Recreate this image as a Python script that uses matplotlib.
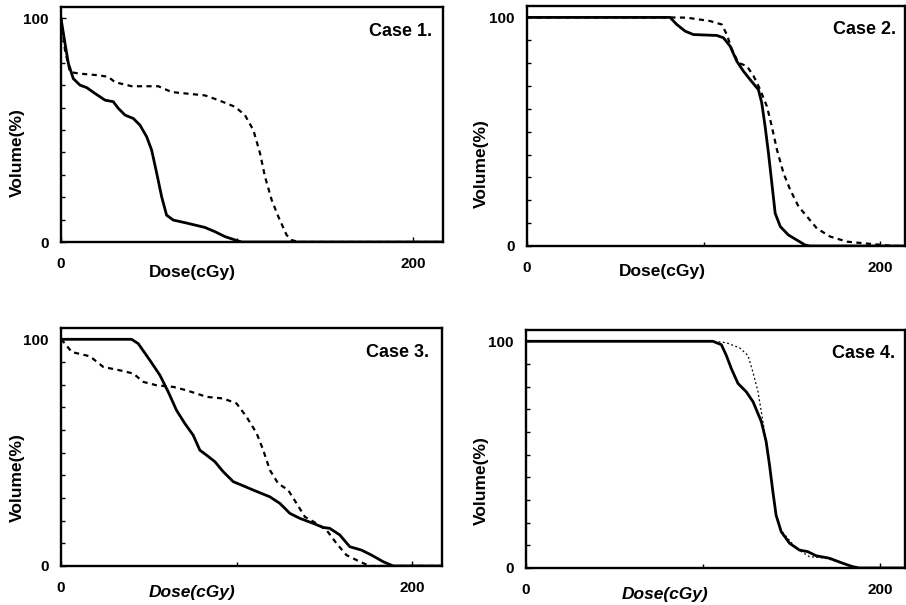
import matplotlib
matplotlib.use("Agg")
import matplotlib.pyplot as plt
from matplotlib.ticker import MultipleLocator, FixedLocator

plt.rcParams['font.family'] = ['Liberation Sans', 'DejaVu Sans']

# ---------------- data (dose in cGy, volume in %) ----------------
c1_solid_x = [0, 2.3, 4.2, 7, 10.8, 14.6, 19.3, 25, 29.7, 32.6, 36.4, 41.1, 44.9, 48.7, 51.5, 54.4, 57.2, 60, 63.8, 72.3, 81.8, 87.5, 93.2, 98.9, 102.7, 217]
c1_solid_y = [100, 88.7, 79.8, 73, 70.1, 69, 66.4, 63.4, 62.7, 59.7, 56.7, 55.2, 52.2, 47, 41.1, 30.7, 20.2, 12, 9.8, 8.3, 6.5, 4.6, 2.4, 0.9, 0, 0]
c1_dash_x = [0, 2.3, 5.1, 9.8, 21.2, 26.9, 30.7, 40.2, 55.3, 62.9, 81.8, 89.4, 98.9, 104.5, 109.3, 113.1, 115.9, 119.7, 123.5, 128.2, 131, 134.8, 217]
c1_dash_y = [100, 85.7, 76, 75.3, 74.5, 73.8, 71.4, 69.6, 69.6, 67, 65.5, 63.4, 60.4, 56.7, 50, 39.6, 29.2, 18.8, 11.3, 3.1, 0.9, 0, 0]

c2_solid_x = [0, 81, 84.8, 89.5, 94.2, 107.5, 111.2, 115, 118.8, 122.5, 126.3, 131, 132.9, 134.8, 136.7, 138.6, 140.5, 143.4, 148, 152.8, 157.5, 160.3, 214]
c2_solid_y = [100, 100, 96.9, 94, 92.5, 92.1, 91.1, 87.4, 80.8, 76.5, 72.8, 68.4, 62.6, 52.3, 40.6, 27.5, 14.3, 8.5, 4.8, 2.6, 0.4, 0, 0]
c2_dash_x = [0, 81, 90.5, 103.7, 110.3, 113.1, 116, 119.7, 124.5, 128.3, 132, 135.8, 138.6, 141.5, 145.2, 149, 153.7, 158.5, 164.1, 171.7, 181.1, 190.5, 201.9, 207.6, 214]
c2_dash_y = [100, 100, 99.9, 98.4, 96.9, 92.5, 86, 80.1, 78.7, 74.3, 68.4, 61.1, 52.3, 42.1, 31.9, 24.6, 17.3, 12.9, 7.7, 4.1, 1.9, 1.2, 0.4, 0, 0]

c3_solid_x = [0, 40.2, 44, 50.7, 56.4, 61.1, 65.8, 70.6, 75.3, 79.1, 82.9, 87.7, 92.4, 98.1, 102.8, 109.5, 119, 124.7, 130.4, 136.1, 143.7, 149.3, 153.1, 158.8, 164.5, 171.2, 176.9, 183.5, 189.2, 217]
c3_solid_y = [100, 100, 98.1, 90.7, 84.1, 76.8, 68.7, 62.8, 57.7, 51.1, 48.9, 46, 41.6, 37.2, 35.7, 33.5, 30.5, 27.6, 23.2, 21, 18.8, 17, 16.6, 13.7, 8.5, 7, 4.8, 1.9, 0, 0]
c3_dash_x = [0, 2.3, 6.1, 16.5, 24.1, 33.6, 41.2, 46.9, 54.5, 64, 71.5, 83, 92.4, 100, 105.7, 111.4, 115.2, 119, 123.7, 129.4, 134.2, 138.9, 145.5, 151.2, 156.9, 162.6, 170.2, 175.9, 217]
c3_dash_y = [100, 98.1, 94.4, 92.5, 87.8, 86.3, 84.9, 81.2, 79.7, 79, 77.5, 74.6, 73.9, 71.7, 65.8, 58.6, 51.1, 42.3, 36.4, 33.5, 27.6, 21.7, 18.8, 15.9, 10, 4.8, 1.9, 0, 0]

c4_solid_x = [0, 105.5, 110.3, 113.1, 115.9, 119.7, 124.4, 128.2, 132.9, 135.6, 137.5, 139.4, 141.2, 144.1, 148.8, 154.4, 159.1, 163.8, 171.3, 178.8, 184.4, 188.2, 214]
c4_solid_y = [100, 100, 98.5, 93.8, 88, 81.4, 77.7, 73.3, 64.5, 55.7, 45.4, 33.6, 23.3, 16, 10.9, 7.9, 7.2, 5.4, 4.3, 2.1, 0.6, 0, 0]
c4_dot_x = [0, 105.5, 113, 120.6, 125.3, 128.1, 131, 133.8, 135.6, 137.5, 139.4, 141.2, 143.1, 152.5, 160, 169.4, 178.8, 186.3, 214]
c4_dot_y = [100, 100, 99.4, 97.1, 93.8, 86.5, 77.7, 64.5, 55.7, 45.4, 33.6, 23.3, 17.5, 8.7, 5, 4.3, 2.1, 0, 0]

case_labels = ["Case 1.", "Case 2.", "Case 3.", "Case 4."]
x_label = "Dose(cGy)"
y_label = "Volume(%)"

# ---------------- layout ----------------
fig = plt.figure(figsize=(9.06, 6.05), dpi=100)

panels = [
    dict(rect=[0.0673, 0.600, 0.4216, 0.3884], xmax=217,
         sx=c1_solid_x, sy=c1_solid_y, dx=c1_dash_x, dy=c1_dash_y, style='dash',
         xl=(0.343, -0.128), yl=(-0.115, 0.379), cl=(0.971, 0.894), italic=False),
    dict(rect=[0.5817, 0.5934, 0.4172, 0.3967], xmax=214,
         sx=c2_solid_x, sy=c2_solid_y, dx=c2_dash_x, dy=c2_dash_y, style='dash',
         xl=(0.357, -0.108), yl=(-0.122, 0.342), cl=(0.976, 0.900), italic=False),
    dict(rect=[0.0673, 0.0645, 0.4205, 0.3934], xmax=217,
         sx=c3_solid_x, sy=c3_solid_y, dx=c3_dash_x, dy=c3_dash_y, style='dash',
         xl=(0.343, -0.113), yl=(-0.115, 0.370), cl=(0.966, 0.899), italic=True),
    dict(rect=[0.5806, 0.0612, 0.4183, 0.3934], xmax=214,
         sx=c4_solid_x, sy=c4_solid_y, dx=c4_dot_x, dy=c4_dot_y, style='dot',
         xl=(0.366, -0.113), yl=(-0.118, 0.366), cl=(0.974, 0.903), italic=True),
]

for p, case in zip(panels, case_labels):
    ax = fig.add_axes(p['rect'])
    ax.plot(p['sx'], p['sy'], color='black', lw=2.0, solid_joinstyle='round', zorder=3)
    if p['style'] == 'dash':
        ax.plot(p['dx'], p['dy'], color='black', lw=1.6, dashes=(2.3, 2.0), zorder=2)
    else:
        ax.plot(p['dx'], p['dy'], color='black', lw=0.9, dashes=(1.5, 2.0), zorder=2)
    ax.set_xlim(0, p['xmax'])
    ax.set_ylim(0, 105)
    for s in ax.spines.values():
        s.set_linewidth(1.7)
    ax.yaxis.set_major_locator(FixedLocator([0, 100]))
    ax.yaxis.set_minor_locator(MultipleLocator(10))
    ax.xaxis.set_major_locator(FixedLocator([0, 200]))
    ax.xaxis.set_minor_locator(FixedLocator([100]))
    ax.set_yticklabels(['0', '100'])
    ax.set_xticklabels(['0', '200'])
    ax.tick_params(which='both', direction='in', width=1.0)
    ax.tick_params(which='major', length=3.5)
    ax.tick_params(which='minor', length=3)
    ax.tick_params(axis='y', pad=9, labelsize=11)
    ax.tick_params(axis='x', pad=11, labelsize=11)
    for lbl in ax.get_xticklabels() + ax.get_yticklabels():
        lbl.set_fontweight('bold')
    ax.text(p['xl'][0], p['xl'][1], x_label, transform=ax.transAxes,
            ha='center', va='center', fontsize=12.5, fontweight='bold',
            fontstyle='italic' if p['italic'] else 'normal')
    ax.text(p['yl'][0], p['yl'][1], y_label, transform=ax.transAxes,
            ha='center', va='center', rotation=90, fontsize=12.5, fontweight='bold')
    ax.text(p['cl'][0], p['cl'][1], case, transform=ax.transAxes,
            ha='right', va='center', fontsize=13, fontweight='bold')

fig.savefig("out.png", dpi=100)
